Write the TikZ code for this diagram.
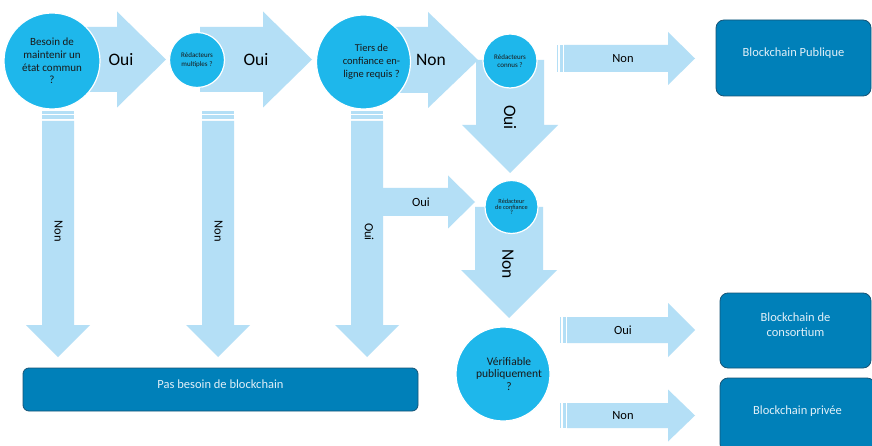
\documentclass[tikz,border=0pt]{standalone}
\usepackage{fontspec}
\setmainfont{Carlito}
\definecolor{circfill}{RGB}{30,183,235}
\definecolor{arrfill}{RGB}{180,223,246}
\definecolor{boxfill}{RGB}{0,128,185}
\definecolor{boxline}{RGB}{22,84,118}
\definecolor{boxtext}{RGB}{226,240,248}
\definecolor{darktext}{RGB}{25,25,25}
% right-pointing block arrow: x0, headbase, tip, yc, shaft half, head half
\newcommand\blkR[6]{\fill[arr] (#1,{#4-#5}) -- (#2,{#4-#5}) -- (#2,{#4-#6}) -- (#3,#4) -- (#2,{#4+#6}) -- (#2,{#4+#5}) -- (#1,{#4+#5}) -- cycle;}
% down-pointing block arrow: xc, y0, headbase, tip, shaft half, head half
\newcommand\blkD[6]{\fill[arr] ({#1-#5},#2) -- ({#1+#5},#2) -- ({#1+#5},#3) -- ({#1+#6},#3) -- (#1,#4) -- ({#1-#6},#3) -- ({#1-#5},#3) -- cycle;}
% stripes before a horizontal arrow: x, yc, half height
\newcommand\stripH[3]{\fill[arr] (#1,{#2-#3}) rectangle ({#1+1.6},{#2+#3}); \fill[arr] ({#1+3.6},{#2-#3}) rectangle ({#1+6},{#2+#3});}
% stripes above a vertical arrow: xc, y, half width
\newcommand\stripV[3]{\fill[arr] ({#1-#3},#2) rectangle ({#1+#3},{#2+2.4}); \fill[arr] ({#1-#3},{#2+4}) rectangle ({#1+#3},{#2+8});}
\begin{document}
\begin{tikzpicture}[x=1pt,y=-1pt,
  arr/.style={fill=arrfill},
  circ/.style={circle,fill=circfill,draw=white,line width=1.2pt,inner sep=0pt,align=center,text=darktext},
  box/.style={rectangle,rounded corners=8pt,fill=boxfill,draw=boxline,line width=0.8pt,inner sep=0pt},
  boxlab/.style={text=boxtext,font=\fontsize{12.5}{15}\selectfont,align=center},
  biglab/.style={font=\fontsize{17.5}{20}\selectfont,text=black},
  smalllab/.style={font=\fontsize{12.5}{15}\selectfont,text=black}]
\useasboundingbox (0,0) rectangle (872,446);
\clip (0,0) rectangle (872,446);
\fill[white] (0,0) rectangle (872,446);

% ---- block arrows ----
\blkR{40}{117}{166}{59.5}{32.5}{48}
\blkR{200}{263}{312}{59.5}{32.5}{48}
\blkR{363}{428}{478}{60}{33}{48}
\blkD{510}{60}{125}{173}{34}{48}
\stripH{556.5}{58.5}{13.5}
\blkR{564}{668}{695}{58.5}{13.5}{26.5}
\blkR{375}{448}{475}{202}{14}{26.5}
\blkD{509}{207}{270}{318}{34}{48}
\stripH{559.5}{330}{13}
\blkR{567}{668}{695}{330}{13}{27}
\stripH{559.5}{415.5}{12.5}
\blkR{567}{668}{695}{415.5}{12.5}{26}
\stripV{58}{111.5}{16}
\blkD{58}{121}{325}{357}{16}{32}
\stripV{218}{111.5}{16}
\blkD{218}{121}{325}{357}{16}{32}
\stripV{367}{111.5}{16}
\blkD{367}{121}{325}{357}{16}{32}

% ---- decision circles ----
\node[circ,minimum size=96pt,font=\fontsize{11}{12.7}\selectfont] (c1) at (52,61)
  {Besoin de\\maintenir un\\état commun\\?};
\node[circ,minimum size=55pt,font=\fontsize{7}{8.3}\selectfont] (c2) at (197,60)
  {Rédacteurs\\multiples ?};
\node[circ,minimum size=94pt,label={[xshift=8pt,align=center,text=darktext,font=\fontsize{10.5}{13}\selectfont]center:Tiers de\\confiance en-\\ligne requis ?}] (c3) at (363.5,62) {};
\node[circ,minimum size=54pt,font=\fontsize{7}{7.5}\selectfont] (c4) at (510,61)
  {Rédacteurs\\connus ?};
\node[circ,minimum size=53pt,font=\fontsize{6.3}{5.8}\selectfont] (c5) at (511.5,207)
  {Rédacteur\\de confiance\\?};
\node[circ,minimum size=94pt,label={[xshift=6pt,align=center,text=darktext,font=\fontsize{11.5}{12.5}\selectfont]center:Vérifiable\\publiquement\\?}] (c6) at (503,374) {};

% ---- result boxes ----
\node[box,minimum width=155pt,minimum height=76pt,label={[boxlab,yshift=5pt]center:Blockchain Publique}] (pub) at (793.5,58) {};
\node[box,minimum width=151pt,minimum height=75pt,label={[boxlab,yshift=5.5pt]center:Blockchain de\\consortium}] (cons) at (795.5,330.5) {};
\node[box,minimum width=155pt,minimum height=74pt,label={[boxlab,yshift=4pt]center:Blockchain privée}] (priv) at (797.5,415) {};
\node[box,rounded corners=6pt,minimum width=395pt,minimum height=43pt,label={[boxlab,yshift=5.5pt]center:Pas besoin de blockchain}] (none) at (220.5,389.5) {};

% ---- arrow labels ----
\node[biglab] (l1) at (121,59.5) {Oui};
\node[biglab] (l2) at (256,59.5) {Oui};
\node[biglab] (l3) at (431,59.5) {Non};
\node[biglab,rotate=-90] (l4) at (510,117.5) {Oui};
\node[biglab,rotate=-90] (l5) at (508,264) {Non};
\node[smalllab] (l6) at (623,58.5) {Non};
\node[smalllab] (l7) at (421,202) {Oui};
\node[smalllab] (l8) at (623,330) {Oui};
\node[smalllab] (l9) at (623,415.5) {Non};
\node[smalllab,rotate=-90] (l10) at (58.5,231) {Non};
\node[smalllab,rotate=-90] (l11) at (218.5,231) {Non};
\node[smalllab,rotate=-90] (l12) at (369,232) {Oui};
\end{tikzpicture}
\end{document}
